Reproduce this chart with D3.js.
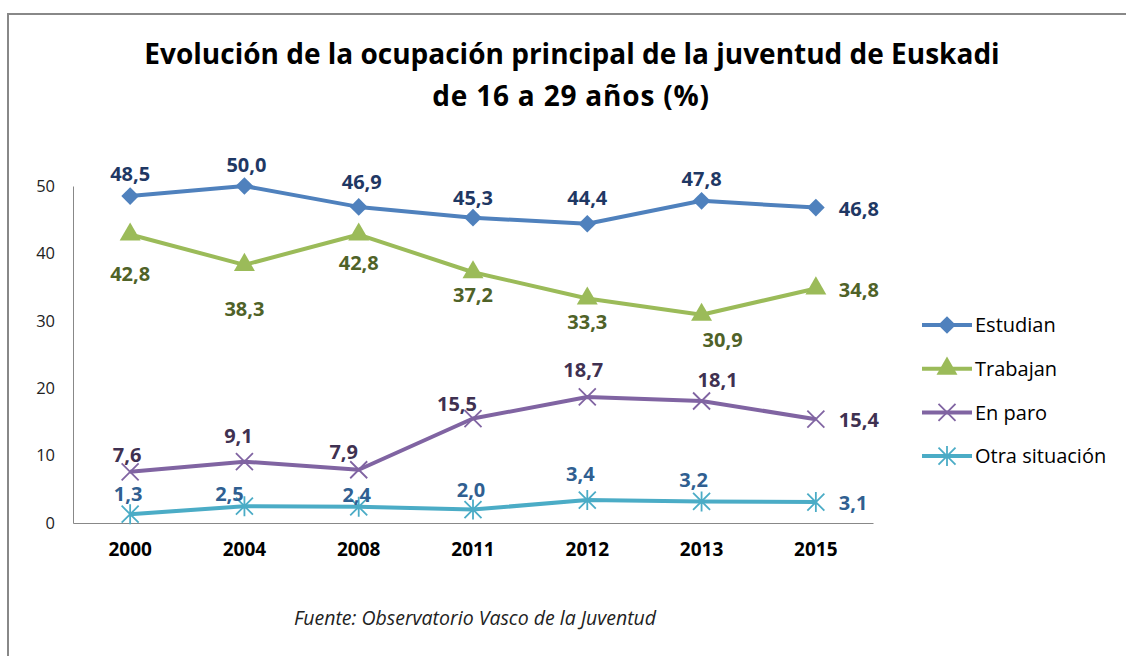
<!DOCTYPE html>
<html>
<head>
<meta charset="utf-8">
<script src="https://cdn.jsdelivr.net/npm/d3@7"></script>
<style>
  body { margin: 0; background: #fff; }
  svg { display: block; font-family: "Open Sans", Lato, sans-serif; }
</style>
</head>
<body>
<svg width="1126" height="656"></svg>
<script>
const years = ['2000', '2004', '2008', '2011', '2012', '2013', '2015'];
const estudian = [48.5, 50.0, 46.9, 45.3, 44.4, 47.8, 46.8];
const trabajan = [42.8, 38.3, 42.8, 37.2, 33.3, 30.9, 34.8];
const enParo = [7.6, 9.1, 7.9, 15.5, 18.7, 18.1, 15.4];
const otra = [1.3, 2.5, 2.4, 2.0, 3.4, 3.2, 3.1];
const yTicks = [0, 10, 20, 30, 40, 50];

// label nudges (the labels in the original were placed by hand)
const estudianDx = [0, 2, 3, 0, 0, 0];
const estudianDy = [-22, -21, -25, -20, -26, -22];
const trabajanDx = [0, 0, 0, 0, 0, 21];
const trabajanDy = [39, 44, 28, 23, 23, 25];
const paroDx = [-3, -6, -15, -16, -4, 16];
const paroDy = [-17, -26, -18, -15, -27, -21];
const otraDx = [-2, -15, -2, -2, -7, -8];
const otraDy = [-20, -12, -12, -20, -26, -22];

const series = [
  { name: 'Estudian', values: estudian, dx: estudianDx, dy: estudianDy, color: '#4f81bd', label: '#1f3864', marker: 'diamond' },
  { name: 'Trabajan', values: trabajan, dx: trabajanDx, dy: trabajanDy, color: '#9bbb59', label: '#4f6228', marker: 'triangle' },
  { name: 'En paro', values: enParo, dx: paroDx, dy: paroDy, color: '#8064a2', label: '#3f3151', marker: 'x' },
  { name: 'Otra situación', values: otra, dx: otraDx, dy: otraDy, color: '#4bacc6', label: '#305f91', marker: 'star' }
];

const svg = d3.select('svg');

const x = d3.scaleBand()
    .domain(years)
    .range([73, 873]);

const y = d3.scaleLinear()
    .domain([0, 50])
    .range([523, 186]);

const fmt = d3.formatLocale({ decimal: ',', thousands: '.', grouping: [3], currency: ['', '€'] }).format('.1f');

// chart border
svg.append('rect')
    .attr('x', 8).attr('y', 14)
    .attr('width', 1200).attr('height', 700)
    .attr('fill', 'none')
    .attr('stroke', '#888')
    .attr('stroke-width', 2);

// title
const title = svg.append('text')
    .attr('text-anchor', 'middle')
    .attr('font-size', 28)
    .attr('font-weight', 'bold')
    .attr('fill', '#000');
title.append('tspan').attr('x', 572).attr('y', 64).text('Evolución de la ocupación principal de la juventud de Euskadi');
title.append('tspan').attr('x', 571).attr('y', 106).attr('letter-spacing', 0.8).text('de 16 a 29 años (%)');

// axes
const yAxis = svg.append('g')
    .attr('transform', 'translate(73,0)')
    .call(d3.axisLeft(y).tickValues(yTicks).tickSize(0).tickPadding(18));
yAxis.select('.domain').attr('stroke', '#888');
yAxis.selectAll('text').attr('font-size', 16.5).attr('fill', '#222').attr('font-family', 'Open Sans');

const xAxis = svg.append('g')
    .attr('transform', 'translate(0,523)')
    .call(d3.axisBottom(x).tickSize(0).tickPadding(20).tickSizeOuter(0));
xAxis.select('.domain').attr('stroke', '#888');
xAxis.selectAll('text').attr('font-size', 19).attr('font-weight', 'bold').attr('fill', '#000').attr('font-family', 'Open Sans');

const cx = d => x(d) + x.bandwidth() / 2;

const line = d3.line()
    .x((d, i) => cx(years[i]))
    .y(d => y(d));

function drawMarker(g, type, color) {
  if (type === 'diamond') {
    g.append('path').attr('d', d3.symbol(d3.symbolDiamond2, 200)()).attr('fill', color);
  } else if (type === 'triangle') {
    g.append('path').attr('d', d3.symbol(d3.symbolTriangle, 190)()).attr('fill', color);
  } else if (type === 'x') {
    g.append('path').attr('d', 'M-8.5,-8.5L8.5,8.5M-8.5,8.5L8.5,-8.5').attr('stroke', color).attr('stroke-width', 1.8);
  } else {
    g.append('path').attr('d', 'M-8.5,-8.5L8.5,8.5M-8.5,8.5L8.5,-8.5M0,-10L0,10').attr('stroke', color).attr('stroke-width', 1.8);
  }
}

series.forEach(s => {
  svg.append('path')
      .datum(s.values)
      .attr('fill', 'none')
      .attr('stroke', s.color)
      .attr('stroke-width', 4)
      .attr('stroke-linejoin', 'round')
      .attr('d', line);

  s.values.forEach((v, i) => {
    const g = svg.append('g').attr('transform', `translate(${cx(years[i])},${y(v)})`);
    drawMarker(g, s.marker, s.color);
    const last = i === s.values.length - 1;
    g.append('text')
        .attr('x', last ? 23 : s.dx[i])
        .attr('y', last ? 1 : s.dy[i])
        .attr('dy', '0.36em')
        .attr('text-anchor', last ? 'start' : 'middle')
        .attr('font-size', 20)
        .attr('font-weight', 'bold')
        .attr('fill', s.label)
        .text(fmt(v));
  });
});

// legend
const legend = svg.append('g')
    .selectAll('g')
    .data(series)
    .enter().append('g')
      .attr('transform', (d, i) => `translate(922,${325 + i * 43.7})`);
legend.append('line')
    .attr('x1', 0).attr('x2', 50)
    .attr('stroke', d => d.color)
    .attr('stroke-width', 4);
legend.each(function(d) {
  const g = d3.select(this).append('g').attr('transform', 'translate(25,0)');
  drawMarker(g, d.marker, d.color);
});
legend.append('text')
    .attr('x', 53).attr('dy', '0.36em')
    .attr('font-size', 20)
    .attr('fill', '#000')
    .text(d => d.name);

// source
svg.append('text')
    .attr('x', 475).attr('y', 625)
    .attr('text-anchor', 'middle')
    .attr('font-size', 19.5)
    .attr('font-style', 'italic')
    .attr('fill', '#222')
    .text('Fuente: Observatorio Vasco de la Juventud');
</script>
</body>
</html>
